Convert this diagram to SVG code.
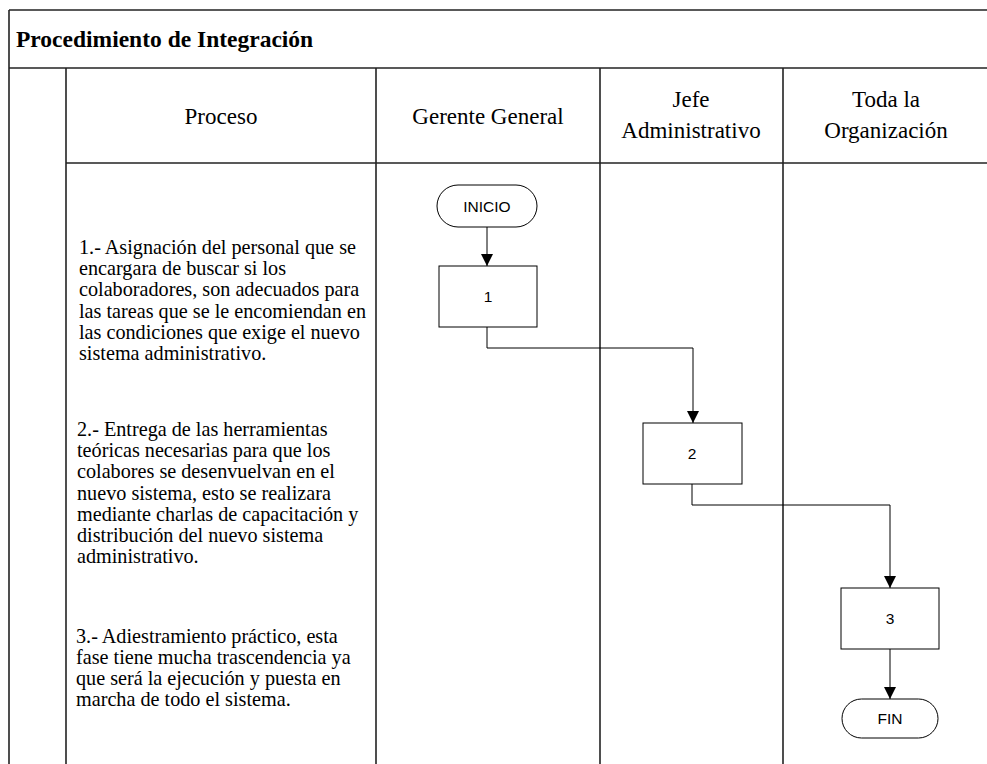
<svg xmlns="http://www.w3.org/2000/svg" width="987" height="764" viewBox="0 0 987 764">
  <style>
    .grid { stroke: #222; stroke-width: 1.6; fill: none; }
    .title { font-family: "Liberation Serif", "Times New Roman", serif; font-size: 23.5px; font-weight: bold; fill: #000; }
    .head { font-family: "Liberation Serif", "Times New Roman", serif; font-size: 23px; fill: #000; text-anchor: middle; }
    .body { font-family: "Liberation Serif", "Times New Roman", serif; font-size: 20.2px; fill: #000; }
    .shape { fill: #fff; stroke: #000; stroke-width: 1; }
    .label { font-family: "Liberation Sans", Arial, sans-serif; font-size: 15.5px; fill: #000; text-anchor: middle; }
    .flow { stroke: #000; stroke-width: 1; fill: none; marker-end: url(#arrow); }
  </style>
  <defs>
    <marker id="arrow" viewBox="0 0 10 10" refX="10" refY="5" markerWidth="12" markerHeight="12" markerUnits="userSpaceOnUse" orient="auto">
      <path d="M0,0 L10,5 L0,10 Z" fill="#000"/>
    </marker>
  </defs>
  <rect width="987" height="764" fill="#fff"/>

  <!-- table frame -->
  <g id="table">
    <line class="grid" x1="9" y1="10" x2="987" y2="10"/>
    <line class="grid" x1="9" y1="68" x2="987" y2="68"/>
    <line class="grid" x1="9" y1="10" x2="9" y2="764"/>
    <line class="grid" x1="66" y1="68" x2="66" y2="764"/>
    <line class="grid" x1="66" y1="163" x2="987" y2="163"/>
    <line class="grid" x1="376" y1="68" x2="376" y2="764"/>
    <line class="grid" x1="600" y1="68" x2="600" y2="764"/>
    <line class="grid" x1="783" y1="68" x2="783" y2="764"/>
    <text class="title" x="16" y="47">Procedimiento de Integración</text>
    <text class="head" x="221" y="124">Proceso</text>
    <text class="head" x="488" y="124">Gerente General</text>
    <text class="head" x="691" y="107">Jefe</text>
    <text class="head" x="691" y="138">Administrativo</text>
    <text class="head" x="886" y="107">Toda la</text>
    <text class="head" x="886" y="138">Organización</text>
  </g>

  <!-- process descriptions -->
  <g id="descriptions">
    <text class="body" x="79" y="254">
      <tspan x="79" dy="0">1.- Asignación del personal que se</tspan>
      <tspan x="79" dy="21.2">encargara de buscar si los</tspan>
      <tspan x="79" dy="21.2">colaboradores, son adecuados para</tspan>
      <tspan x="79" dy="21.2">las tareas que se le encomiendan en</tspan>
      <tspan x="79" dy="21.2">las condiciones que exige el nuevo</tspan>
      <tspan x="79" dy="21.2">sistema administrativo.</tspan>
    </text>
    <text class="body" x="77" y="436">
      <tspan x="77" dy="0">2.- Entrega de las herramientas</tspan>
      <tspan x="77" dy="21.2">teóricas necesarias para que los</tspan>
      <tspan x="77" dy="21.2">colabores se desenvuelvan en el</tspan>
      <tspan x="77" dy="21.2">nuevo sistema, esto se realizara</tspan>
      <tspan x="77" dy="21.2">mediante charlas de capacitación y</tspan>
      <tspan x="77" dy="21.2">distribución del nuevo sistema</tspan>
      <tspan x="77" dy="21.2">administrativo.</tspan>
    </text>
    <text class="body" x="76" y="643">
      <tspan x="76" dy="0">3.- Adiestramiento práctico, esta</tspan>
      <tspan x="76" dy="21">fase tiene mucha trascendencia ya</tspan>
      <tspan x="76" dy="21">que será la ejecución y puesta en</tspan>
      <tspan x="76" dy="21">marcha de todo el sistema.</tspan>
    </text>
  </g>

  <!-- connectors -->
  <g id="connectors">
    <path class="flow" d="M487,227 V266"/>
    <path class="flow" d="M487,327 V348 H693 V423"/>
    <path class="flow" d="M692,484 V505 H890 V588"/>
    <path class="flow" d="M890,649 V699"/>
  </g>

  <!-- flowchart nodes -->
  <g id="inicio">
    <rect class="shape" x="437" y="185" width="100" height="42" rx="21"/>
    <text class="label" x="487" y="211.5">INICIO</text>
  </g>
  <g id="step1">
    <rect class="shape" x="439" y="266" width="98" height="61"/>
    <text class="label" x="488" y="302">1</text>
  </g>
  <g id="step2">
    <rect class="shape" x="643" y="423" width="99" height="61"/>
    <text class="label" x="692" y="459">2</text>
  </g>
  <g id="step3">
    <rect class="shape" x="841" y="588" width="98" height="61"/>
    <text class="label" x="890" y="624">3</text>
  </g>
  <g id="fin">
    <rect class="shape" x="842" y="699" width="96" height="39" rx="19.5"/>
    <text class="label" x="890" y="724">FIN</text>
  </g>
</svg>
